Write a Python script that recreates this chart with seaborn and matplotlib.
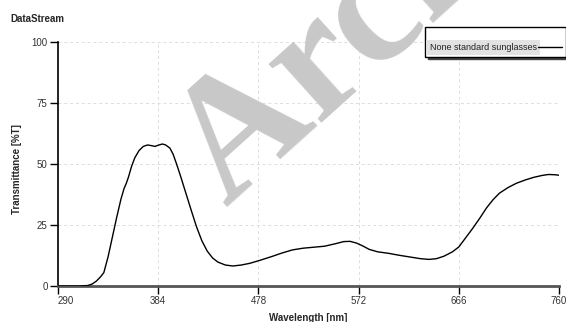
import numpy as np
import pandas as pd
import seaborn as sns
import matplotlib.pyplot as plt

# spectrum
wavelength = [290, 300, 310, 318, 322, 326, 330, 333, 337, 341, 345, 349, 352, 354,
              356, 359, 362, 366, 370, 374, 378, 381, 384, 388, 391, 395, 398, 401,
              405, 410, 415, 420, 425, 430, 435, 440, 447, 454, 462, 470, 480, 490,
              500, 510, 520, 530, 540, 550, 558, 564, 570, 576, 582, 590, 600, 610,
              620, 630, 638, 645, 652, 660, 666, 672, 679, 686, 692, 698, 704, 712,
              720, 728, 736, 744, 750, 756, 760]
transmittance = [0, 0, 0, 0.2, 0.8, 2, 3.8, 5.5, 12, 20, 28, 35.5, 40, 42,
                 44.5, 49, 52.5, 55.5, 57.2, 57.8, 57.5, 57.2, 57.7, 58.2, 57.8, 56.5, 54, 50.3,
                 45, 38, 31, 24.2, 18.5, 14.3, 11.5, 9.8, 8.6, 8.2, 8.6, 9.3, 10.6, 12,
                 13.5, 14.8, 15.5, 15.9, 16.3, 17.3, 18.2, 18.3, 17.6, 16.4, 15, 14, 13.4, 12.6,
                 11.9, 11.2, 10.9, 11.2, 12.2, 14, 16, 19.5, 23.6, 28, 32, 35.3, 38, 40.3,
                 42.1, 43.4, 44.5, 45.3, 45.7, 45.6, 45.4]
series_name = "None standard sunglasses"
x_ticks = [290, 384, 478, 572, 666, 760]
y_ticks = [0, 25, 50, 75, 100]

sns.set_style("white")
plt.rcParams['font.family'] = ['Liberation Sans', 'DejaVu Sans']

df = pd.DataFrame({'wavelength': wavelength, 'T': transmittance, 'series': series_name})

fig = plt.figure(figsize=(5.66, 3.22), dpi=100)
ax = fig.add_axes([58 / 566, 1 - 286 / 322, 501 / 566, 244 / 322])

sns.lineplot(data=df, x='wavelength', y='T', hue='series', palette=['black'],
             linewidth=1.0, ax=ax, zorder=3)

ax.set_xlim(290, 760)
ax.set_ylim(0, 100)
ax.set_xticks(x_ticks)
ax.set_yticks(y_ticks)
ax.grid(True, color='#dddddd', linestyle=(0, (3, 3)), linewidth=0.7)
ax.tick_params(axis='both', direction='out', length=6, width=1, color='black',
               labelsize=7, labelcolor='#333333', pad=1.5, left=True, bottom=True)
for s in ['top', 'right']:
    ax.spines[s].set_visible(False)
ax.spines['left'].set_color('black')
ax.spines['left'].set_linewidth(1.2)
ax.spines['bottom'].set_color('#555555')
ax.spines['bottom'].set_linewidth(2)
ax.get_xticklabels()[0].set_horizontalalignment('left')

ax.set_xlabel('Wavelength [nm]', fontsize=7, fontweight='bold')
ax.set_ylabel('Transmittance [%T]', fontsize=7, fontweight='bold')
ax.xaxis.set_label_coords(0.5, -0.11)
ax.yaxis.set_label_coords(-0.072, 0.48)

fig.text(10 / 566, 1 - 19 / 322, 'DataStream', fontsize=7, fontweight='bold',
         va='center', ha='left')

# watermark
fig.text(226 / 566, 1 - 208 / 322, 'Archived', fontsize=124, fontweight='bold',
         family='Liberation Serif', color='#c8c8c8', rotation=42,
         rotation_mode='anchor', ha='left', va='baseline', zorder=2)

ax.get_legend().remove()
h, _ = ax.get_legend_handles_labels()
leg = fig.legend(h, [series_name], loc='upper left',
                 bbox_to_anchor=(425 / 566, 1 - 27 / 322), fontsize=6.5,
                 title=' ', title_fontsize=5,
                 frameon=True, fancybox=False, shadow={'color': '#444444', 'alpha': 1},
                 markerfirst=False, borderpad=0.5, handlelength=2.6, handletextpad=0.2,
                 borderaxespad=0)
leg.get_frame().set_edgecolor('black')
leg.get_frame().set_linewidth(1)
for t in leg.get_texts():
    t.set_color('#222222')
    t.set_bbox(dict(facecolor='#e2e2e2', edgecolor='none', pad=2.5))

fig.savefig('out.png', dpi=100)
